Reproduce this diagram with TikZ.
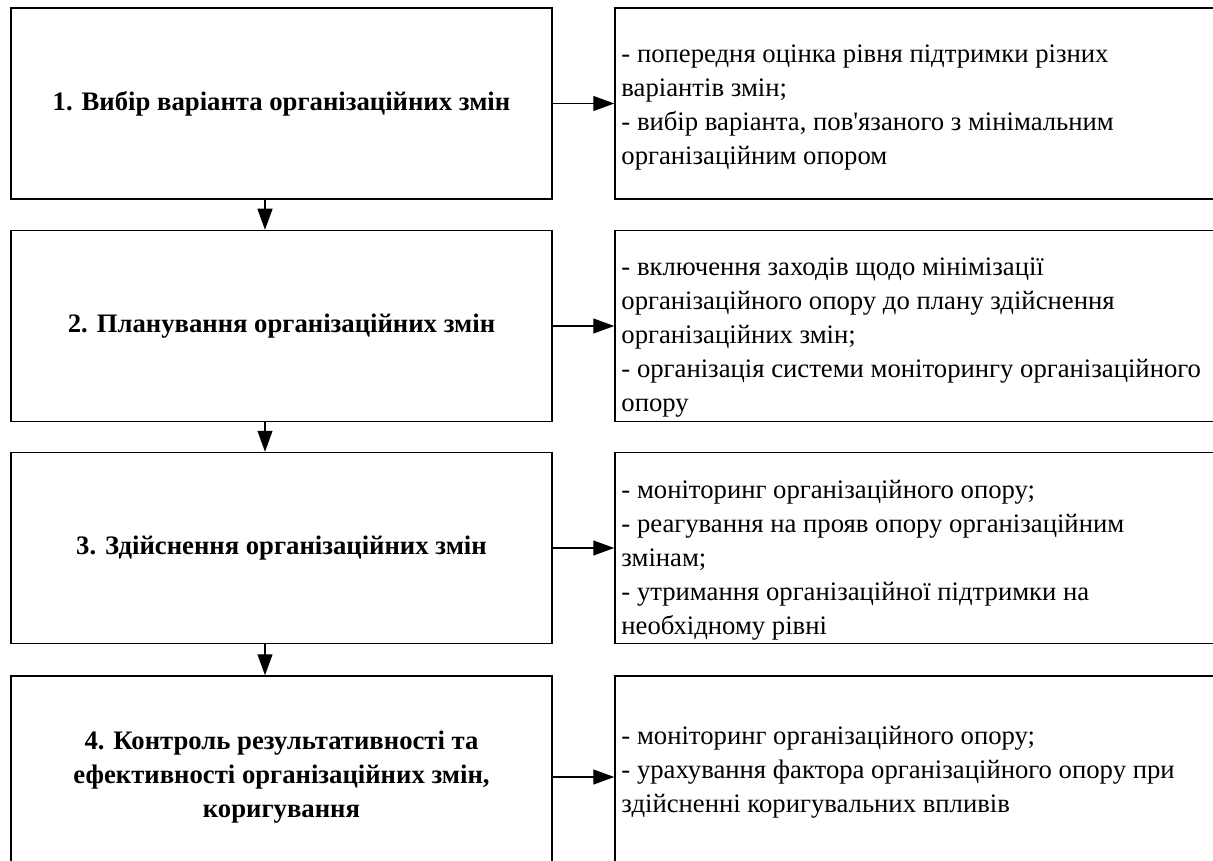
\documentclass[tikz,border=0pt]{standalone}
\usepackage{fontspec}
\setmainfont{Liberation Serif}
\usetikzlibrary{arrows.meta,positioning}

\tikzset{
  stagebox/.style={draw,line width=1.5pt,minimum width=541pt,minimum height=191pt,
    align=center,inner sep=0pt,font=\fontsize{26.7}{34}\selectfont\bfseries},
  notebox/.style={draw,line width=1.5pt,minimum width=620pt,minimum height=191pt},
  notetext/.style={anchor=west,align=left,inner xsep=7pt,inner ysep=0pt,
    font=\fontsize{26.7}{34}\selectfont},
  flow/.style={line width=1.2pt,-{Triangle[length=21pt,width=15pt]}}
}

\begin{document}
\begin{tikzpicture}[x=1pt,y=-1pt]
  \useasboundingbox (0,0) rectangle (1213,861);
  \clip (0,0) rectangle (1213,861);
  % stages
  \node[stagebox] (st1) at (281.5,103.5) {1. Вибір варіанта організаційних змін};
  \node[stagebox] (st2) at (281.5,326) {2. Планування організаційних змін};
  \node[stagebox] (st3) at (281.5,548) {3. Здійснення організаційних змін};
  \node[stagebox,minimum height=202pt] (st4) at (281.5,777) {4. Контроль результативності та\\ефективності організаційних змін,\\коригування};
  % measures
  \node[notebox] (nt1) at (925,103.5) {};
  \node[notebox] (nt2) at (925,326) {};
  \node[notebox] (nt3) at (925,548) {};
  \node[notebox,minimum height=202pt] (nt4) at (925,777) {};
  \node[notetext] (tx1) at ([yshift=-4pt]nt1.west) {- попередня оцінка рівня підтримки різних\\варіантів змін;\\- вибір варіанта, пов\textquotesingle язаного з мінімальним\\організаційним опором};
  \node[notetext] (tx2) at ([yshift=-12pt]nt2.west) {- включення заходів щодо мінімізації\\організаційного опору до плану здійснення\\організаційних змін;\\- організація системи моніторингу організаційного\\опору};
  \node[notetext] (tx3) at ([yshift=-12pt]nt3.west) {- моніторинг організаційного опору;\\- реагування на прояв опору організаційним\\змінам;\\- утримання організаційної підтримки на\\необхідному рівні};
  \node[notetext] (tx4) at ([yshift=5pt]nt4.west) {- моніторинг організаційного опору;\\- урахування фактора організаційного опору при\\здійсненні коригувальних впливів};
  % arrows
  \foreach \i in {1,...,4}
    \draw[flow] (st\i.east) -- (nt\i.west);
  \foreach \i/\j in {1/2,2/3,3/4}
    \draw[flow] ([xshift=-16.5pt]st\i.south) -- ([xshift=-16.5pt]st\j.north);
\end{tikzpicture}
\end{document}
